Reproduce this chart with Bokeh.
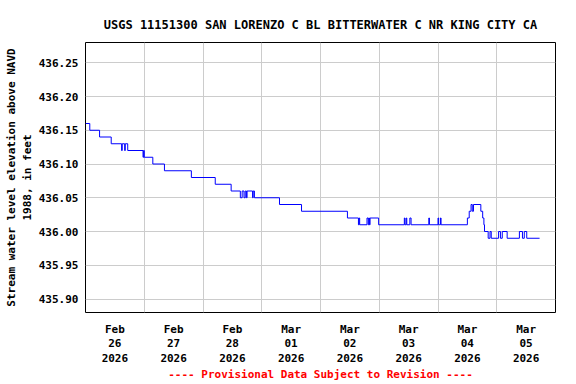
from datetime import datetime, timedelta
from bokeh.plotting import figure
from bokeh.models import Range1d, FixedTicker, NumeralTickFormatter
from bokeh.embed import file_html
from bokeh.resources import INLINE

TITLE = "USGS 11151300 SAN LORENZO C BL BITTERWATER C NR KING CITY CA"
FOOTER = "---- Provisional Data Subject to Revision ----"
Y_LABEL = "Stream water level elevation above NAVD\n1988, in feet"

START = datetime(2026, 2, 26)
N_DAYS = 8

# Level changes: hours after Feb 26 00:00 and the new level (ft)
change_hours = [0, 1.75, 5.75, 10.5, 14.75, 15.0, 16.0, 16.25, 17.25,
                23.5, 23.75, 24.0, 27.5, 32.25, 43.25, 53.0, 59.5,
                63.25, 64.0, 64.75, 65.25, 65.75, 66.0, 68.25, 68.5, 69.0,
                79.25, 88.25, 107.0, 111.5, 111.75, 112.0,
                115.0, 115.5, 115.75, 116.0, 116.25, 119.75,
                130.25, 130.5, 131.0, 131.25, 132.5, 133.0,
                140.25, 140.5, 144.0, 144.25, 145.0, 145.25,
                156.0, 156.75, 157.5, 158.0, 158.5, 161.5, 162.25, 162.75,
                163.0, 164.5, 165.25, 165.75, 168.75, 169.5, 170.25,
                172.25, 177.25, 178.5, 179.25, 180.25]
change_levels = [436.16, 436.15, 436.14, 436.13, 436.12, 436.13, 436.12, 436.13, 436.12,
                 436.11, 436.12, 436.11, 436.10, 436.09, 436.08, 436.07, 436.06,
                 436.05, 436.06, 436.05, 436.06, 436.05, 436.06, 436.05, 436.06, 436.05,
                 436.04, 436.03, 436.02, 436.01, 436.02, 436.01,
                 436.02, 436.01, 436.02, 436.01, 436.02, 436.01,
                 436.02, 436.01, 436.02, 436.01, 436.02, 436.01,
                 436.02, 436.01, 436.02, 436.01, 436.02, 436.01,
                 436.02, 436.03, 436.04, 436.03, 436.04, 436.03, 436.02, 436.01,
                 436.00, 435.99, 436.00, 435.99, 436.00, 435.99, 436.00,
                 435.99, 436.00, 435.99, 436.00, 435.99]
end_hour = 185.5

day_labels = ["Feb\n26\n2026", "Feb\n27\n2026", "Feb\n28\n2026", "Mar\n01\n2026",
              "Mar\n02\n2026", "Mar\n03\n2026", "Mar\n04\n2026", "Mar\n05\n2026"]
y_ticks = [435.90, 435.95, 436.00, 436.05, 436.10, 436.15, 436.20, 436.25]
y_min, y_max = 435.88, 436.28

EPOCH = datetime(1970, 1, 1)


def ms(dt):
    return (dt - EPOCH).total_seconds() * 1000.0


xs = [START + timedelta(hours=h) for h in change_hours] + [START + timedelta(hours=end_hour)]
ys = list(change_levels) + [change_levels[-1]]

noon_ticks = [ms(START + timedelta(days=i, hours=12)) for i in range(N_DAYS)]
midnight_ticks = [ms(START + timedelta(days=i)) for i in range(N_DAYS + 1)]

FONT = "DejaVu Sans Mono"

p = figure(width=576, height=384, x_axis_type="datetime",
           output_backend="svg", toolbar_location=None,
           x_range=Range1d(ms(START), ms(START + timedelta(days=N_DAYS))),
           y_range=Range1d(y_min, y_max),
           min_border_left=85, min_border_right=21,
           min_border_top=42, min_border_bottom=69)

p.step(xs, ys, mode="after", line_color="#0000ff", line_width=1)

p.title.text = TITLE
p.title.align = "center"
p.title.text_font = FONT
p.title.text_font_size = "12px"
p.title.text_font_style = "bold"
p.title.text_color = "black"
p.title.standoff = 21

p.outline_line_color = "black"
p.outline_line_width = 1
p.background_fill_color = "white"
p.border_fill_color = "white"

xa = p.xaxis[0]
xa.ticker = FixedTicker(ticks=noon_ticks)
xa.major_label_overrides = {t: lab for t, lab in zip(noon_ticks, day_labels)}
xa.axis_line_color = None
xa.major_tick_line_color = None
xa.minor_tick_line_color = None
xa.major_tick_out = 0
xa.major_tick_in = 0
xa.major_label_text_font = FONT
xa.major_label_text_font_size = "11px"
xa.major_label_text_font_style = "bold"
xa.major_label_text_color = "black"
xa.major_label_text_line_height = 1.15
xa.major_label_standoff = 10
# footer line sits under the date labels
xa.axis_label = FOOTER
xa.axis_label_text_font = FONT
xa.axis_label_text_font_size = "11px"
xa.axis_label_text_font_style = "bold"
xa.axis_label_text_color = "red"
xa.axis_label_text_line_height = 0.75
xa.axis_label_standoff = 0

ya = p.yaxis[0]
ya.ticker = FixedTicker(ticks=y_ticks)
ya.formatter = NumeralTickFormatter(format="0.00")
ya.axis_line_color = None
ya.major_tick_line_color = None
ya.minor_tick_line_color = None
ya.major_tick_out = 0
ya.major_tick_in = 0
ya.major_label_text_font = FONT
ya.major_label_text_font_size = "11px"
ya.major_label_text_font_style = "bold"
ya.major_label_text_color = "black"
ya.major_label_standoff = 7
ya.axis_label = Y_LABEL
ya.axis_label_text_font = FONT
ya.axis_label_text_font_size = "11px"
ya.axis_label_text_font_style = "bold"
ya.axis_label_text_color = "black"
ya.axis_label_standoff = 2

p.xgrid.ticker = FixedTicker(ticks=midnight_ticks)
p.ygrid.ticker = FixedTicker(ticks=y_ticks)
for g in (p.xgrid[0], p.ygrid[0]):
    g.grid_line_color = "#cccccc"
    g.grid_line_width = 1

open("out.html", "w").write(file_html(p, INLINE))
